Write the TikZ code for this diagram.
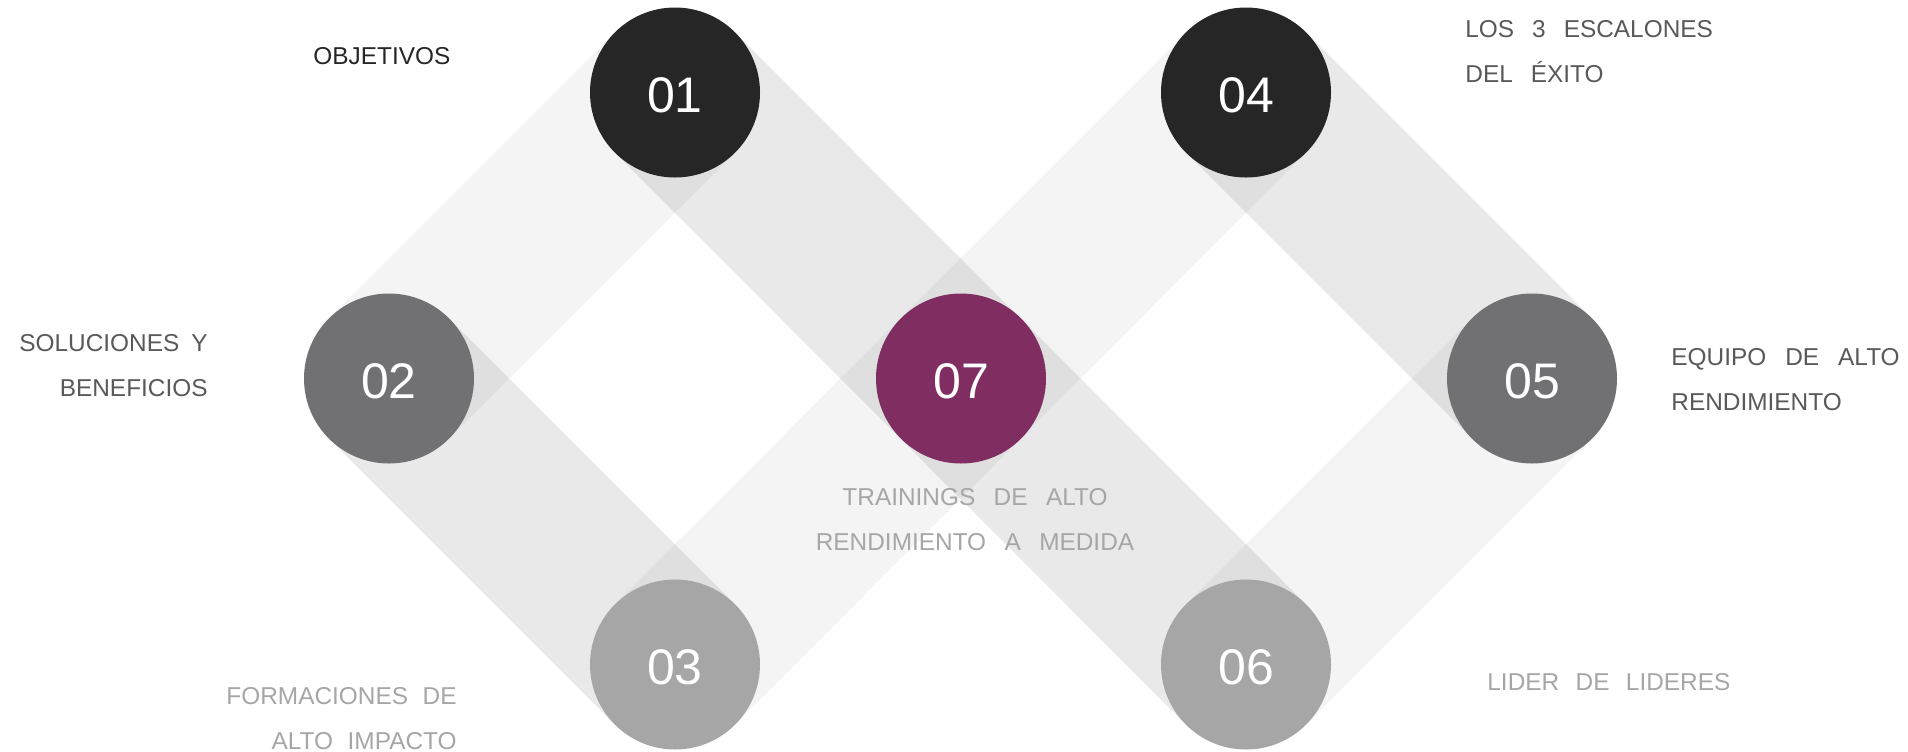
\documentclass[tikz,border=0pt]{standalone}
\usepackage{fontspec}
\setmainfont{Liberation Sans}
\usetikzlibrary{backgrounds}

\definecolor{dotdark}{HTML}{262626}
\definecolor{dotmid}{HTML}{717073}
\definecolor{dotlight}{HTML}{A6A6A6}
\definecolor{dotplum}{HTML}{802D62}
\definecolor{txtmid}{HTML}{595959}
\definecolor{txtlight}{HTML}{A6A6A6}

\begin{document}
\begin{tikzpicture}[x=0.5pt, y=-0.5pt,
        dot/.style={circle, fill=#1, minimum size=85pt, inner sep=0pt, text=white,
            font=\fontsize{25}{30}\selectfont, text height=19.9pt},
        band/.style={line width=85pt, draw=black, draw opacity=#1},
        lbl/.style={inner sep=0pt, font=\fontsize{12.2}{22.5}\selectfont,
            execute at begin node={\spaceskip=#1pt plus 0pt\relax}}]
        \useasboundingbox (0,0) rectangle (1908,751);

        % circles
        \node[dot=dotdark] (c01) at (675,92.5) {01};
        \node[dot=dotmid] (c02) at (389,378.5) {02};
        \node[dot=dotlight] (c03) at (675,664.5) {03};
        \node[dot=dotdark] (c04) at (1246,92.5) {04};
        \node[dot=dotmid] (c05) at (1532,378.5) {05};
        \node[dot=dotlight] (c06) at (1246,664.5) {06};
        \node[dot=dotplum] (c07) at (961,378.5) {07};

        % bands
        \begin{scope}[on background layer]
            \draw[band=0.045] (c02.center) -- (c01.center);
            \draw[band=0.085] (c01.center) -- (c06.center);
            \draw[band=0.085] (c02.center) -- (c03.center);
            \draw[band=0.045] (c03.center) -- (c04.center);
            \draw[band=0.085] (c04.center) -- (c05.center);
            \draw[band=0.045] (c05.center) -- (c06.center);
        \end{scope}

        % labels (base = last line)
        \node[lbl=9.5, text=dotdark, anchor=base west] (t01) at (313,64) {OBJETIVOS};
        \node[lbl=6, text=txtmid, anchor=base east, align=right] (t02) at (208,396) {SOLUCIONES Y\\BENEFICIOS};
        \node[lbl=7.3, text=txtlight, anchor=base east, align=right] (t03) at (457,749) {FORMACIONES DE\\ALTO IMPACTO};
        \node[lbl=9, text=txtmid, anchor=base west, align=left] (t04) at (1465,82) {LOS 3 ESCALONES\\DEL ÉXITO};
        \node[lbl=9.5, text=txtmid, anchor=base west, align=left] (t05) at (1671,410) {EQUIPO DE ALTO\\RENDIMIENTO};
        \node[lbl=8.2, text=txtlight, anchor=base west] (t06) at (1487,690) {LIDER DE LIDERES};
        \node[lbl=9.2, text=txtlight, anchor=base, align=center] (t07) at (975,550) {TRAININGS DE ALTO\\RENDIMIENTO A MEDIDA};
    \end{tikzpicture}
\end{document}
